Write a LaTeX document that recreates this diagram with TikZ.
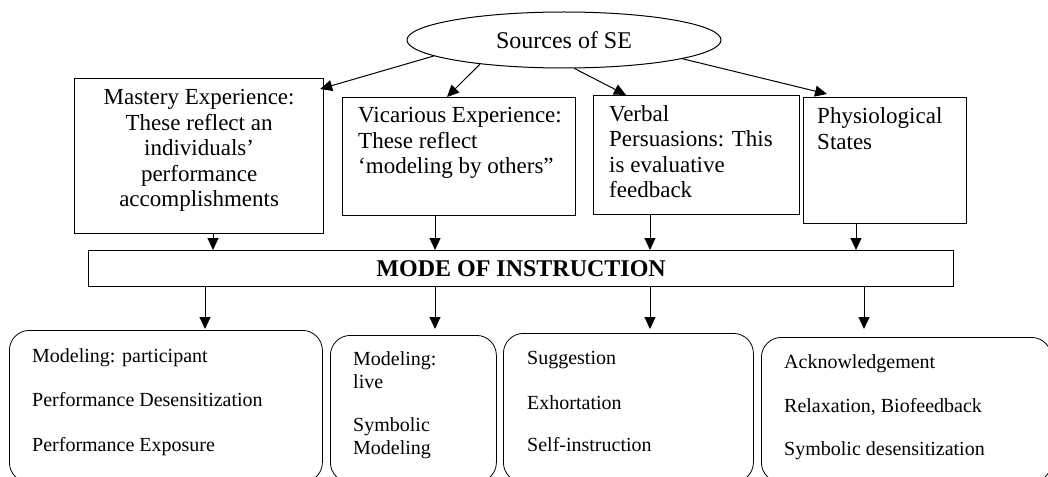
\documentclass[tikz,border=0pt]{standalone}
\usepackage{fontspec}
\setmainfont{Liberation Serif}
\usetikzlibrary{shapes}
\usetikzlibrary{arrows.meta}
\usetikzlibrary{calc}
\usetikzlibrary{positioning}

\tikzset{
  srcnode/.style={ellipse, draw, line width=1pt, minimum width=314pt, minimum height=56pt, inner sep=0pt,
    font=\fontsize{24}{26}\selectfont},
  topbox/.style={draw, line width=1.2pt, anchor=north west, inner sep=0pt},
  barbox/.style={draw, line width=1.2pt, anchor=north west, inner sep=0pt},
  listbox/.style={draw, line width=0.8pt, rounded corners=20pt, anchor=north west, inner sep=0pt},
  toptext/.style={inner sep=0pt, font=\fontsize{23}{25.5}\selectfont},
  listtext/.style={inner sep=0pt, anchor=north west, align=left, font=\fontsize{20}{23}\selectfont},
  arr/.style={-{Triangle[width=11pt,length=12pt]}, line width=1pt}
}

\begin{document}
\begin{tikzpicture}[x=1pt, y=-1pt]
  \useasboundingbox (0,0) rectangle (1048,476);
  % source of self-efficacy
  \node[srcnode] (src) at (564,40) {Sources of SE};
  % the four sources
  \node[topbox, minimum width=249pt, minimum height=155pt] (mastery) at (74,78) {};
  \node[topbox, minimum width=233pt, minimum height=118pt] (vicar) at (342,97) {};
  \node[topbox, minimum width=206pt, minimum height=119pt] (verbal) at (593,95) {};
  \node[topbox, minimum width=163pt, minimum height=126pt] (physio) at (803,97) {};
  \node[toptext, anchor=north, align=center] at ($(mastery.north)+(0,11.5)$)
    {Mastery Experience:\\These reflect an\\individuals'\\performance\\accomplishments};
  \node[toptext, anchor=north west, align=left] at ($(vicar.north west)+(16,10.5)$)
    {Vicarious Experience:\\These reflect\\`modeling by others''};
  \node[toptext, anchor=north west, align=left] at ($(verbal.north west)+(16,10)$)
    {Verbal\\Persuasions: This\\is evaluative\\feedback};
  \node[toptext, anchor=north west, align=left] at ($(physio.north west)+(14,10.5)$)
    {Physiological\\States};
  % mode bar
  \node[barbox, minimum width=865pt, minimum height=36pt] (mode) at (88,250) {};
  \node[inner sep=0pt, font=\bfseries\fontsize{24}{26}\selectfont] at (mode.center) {MODE OF INSTRUCTION};
  % list boxes
  \node[listbox, minimum width=313pt, minimum height=152pt] (l1) at (9,330) {};
  \node[listbox, minimum width=166pt, minimum height=147pt] (l2) at (330,335) {};
  \node[listbox, minimum width=250pt, minimum height=149pt] (l3) at (503,333) {};
  \node[listbox, minimum width=290pt, minimum height=145pt] (l4) at (761,337) {};
  \node[listtext] at ($(l1.north west)+(23,18)$)
    {Modeling: participant\\[21.5pt]Performance Desensitization\\[21.5pt]Performance Exposure};
  \node[listtext] at ($(l2.north west)+(23,16)$)
    {Modeling:\\live\\[20pt]Symbolic\\Modeling};
  \node[listtext] at ($(l3.north west)+(24,18)$)
    {Suggestion\\[22pt]Exhortation\\[19pt]Self-instruction};
  \node[listtext] at ($(l4.north west)+(23,17)$)
    {Acknowledgement\\[21pt]Relaxation, Biofeedback\\[20pt]Symbolic desensitization};
  % arrows from the source
  \draw[arr] (src.187) -- ($(mastery.north east)+(-4,11)$);
  \draw[arr] (src.196) -- ($(vicar.north west)+(105,0)$);
  \draw[arr] (src.290) -- ($(verbal.north west)+(33,0)$);
  \draw[arr] (src.351) -- ($(physio.north west)+(24,-3)$);
  % arrows into the bar
  \draw[arr] ($(mastery.south west)+(139,0)$) coordinate (m1) -- (m1 |- mode.north);
  \draw[arr] ($(vicar.south west)+(93,0)$) coordinate (m2) -- (m2 |- mode.north);
  \draw[arr] ($(verbal.south west)+(57,0)$) coordinate (m3) -- (m3 |- mode.north);
  \draw[arr] ($(physio.south west)+(53,0)$) coordinate (m4) -- (m4 |- mode.north);
  % arrows out of the bar
  \draw[arr] ($(mode.south west)+(117,0)$) coordinate (n1) -- ($(n1 |- l1.north)+(0,-1)$);
  \draw[arr] ($(mode.south west)+(347,0)$) coordinate (n2) -- ($(n2 |- l2.north)+(0,-6)$);
  \draw[arr] ($(mode.south west)+(562,0)$) coordinate (n3) -- ($(n3 |- l3.north)+(0,-4)$);
  \draw[arr] ($(mode.south west)+(776,0)$) coordinate (n4) -- ($(n4 |- l4.north)+(0,-8)$);
\end{tikzpicture}
\end{document}
